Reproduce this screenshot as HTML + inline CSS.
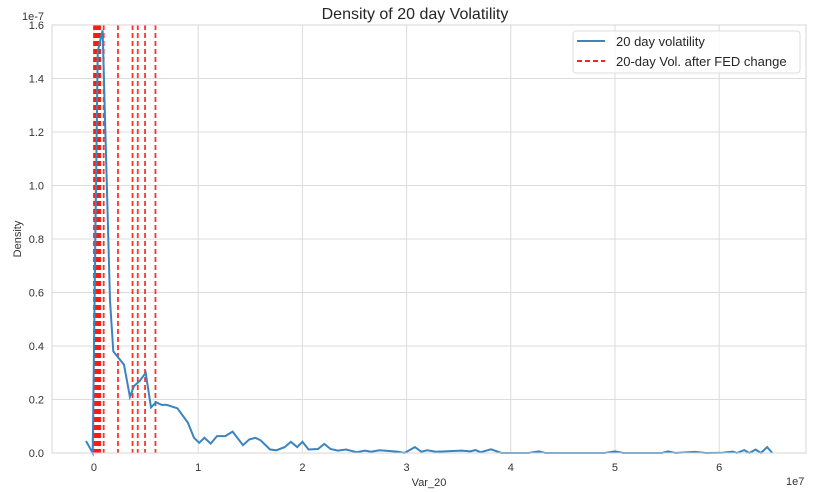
<!DOCTYPE html>
<html><head><meta charset="utf-8"><style>
body{margin:0;background:#fff;font-family:"Liberation Sans",sans-serif}
svg{display:block}
</style></head><body>
<svg width="824" height="492" id="chart">
<text x="415" y="19" text-anchor="middle" font-size="16" fill="#262626">Density of 20 day Volatility</text>
<g id="grid"></g>
<g id="ticks"></g>
<g id="vlines"></g>
<path id="curve" fill="none" stroke="#3a84c0" stroke-width="2"/>
<rect x="52" y="25" width="754" height="428" fill="none" stroke="#d5d5d5" stroke-width="1"/>
<text x="22" y="20" font-size="11" fill="#333">1e-7</text>
<text x="786" y="485" font-size="11" fill="#333">1e7</text>
<text x="429" y="486" text-anchor="middle" font-size="11" fill="#333">Var_20</text>
<text transform="translate(21,239) rotate(-90)" text-anchor="middle" font-size="11" fill="#333">Density</text>
<g>
<rect x="573" y="31" width="227" height="42" rx="3" fill="#fff" fill-opacity="0.85" stroke="#ddd"/>
<line x1="577" y1="41" x2="605" y2="41" stroke="#3a84c0" stroke-width="2"/>
<text x="616" y="46" font-size="13" fill="#262626">20 day volatility</text>
<line x1="577" y1="61" x2="605" y2="61" stroke="#ff2020" stroke-width="2" stroke-dasharray="5,3"/>
<text x="616" y="66" font-size="13" fill="#262626">20-day Vol. after FED change</text>
</g>
</svg>
<script>
const xVals=[-0.077,-0.012,0.036,0.083,0.154,0.185,0.288,0.345,0.384,0.44,0.496,0.547,0.595,0.65,0.70,0.80,0.90,0.96,1.01,1.06,1.12,1.18,1.26,1.33,1.43,1.49,1.55,1.60,1.69,1.75,1.83,1.89,1.95,2.00,2.06,2.15,2.21,2.27,2.34,2.42,2.52,2.60,2.66,2.74,2.92,2.98,3.08,3.14,3.20,3.28,3.53,3.61,3.66,3.71,3.81,3.91,4.17,4.27,4.33,4.90,5.00,5.08,5.45,5.51,5.58,5.77,5.87,6.03,6.13,6.17,6.24,6.29,6.35,6.40,6.46,6.51];
const densVals=[0.045,0,1.50,1.58,0.57,0.38,0.33,0.21,0.25,0.27,0.30,0.17,0.19,0.18,0.18,0.167,0.114,0.057,0.038,0.057,0.035,0.063,0.063,0.08,0.029,0.051,0.057,0.047,0.013,0.010,0.022,0.042,0.022,0.042,0.013,0.015,0.034,0.015,0.009,0.013,0.003,0.009,0.005,0.010,0.005,0,0.022,0.005,0.010,0.005,0.009,0.006,0.011,0.003,0.014,0,0,0.006,0,0,0.006,0,0,0.006,0,0.004,0,0.001,0.005,0,0.011,0,0.013,0,0.022,0];
const fedVals=[0,0.005,0.01,0.015,0.02,0.025,0.03,0.035,0.04,0.045,0.05,0.055,0.06,0.093,0.23,0.37,0.42,0.49,0.59];
const xTicks=[0,1,2,3,4,5,6];
const yTicks=[0,0.2,0.4,0.6,0.8,1.0,1.2,1.4,1.6];
const X0=52,X1=806,Y0=453,Y1=25,xMin=-0.403,xMax=6.833,yMin=0,yMax=1.6;
const sx=v=>X0+(v-xMin)/(xMax-xMin)*(X1-X0);
const sy=v=>Y0-(v-yMin)/(yMax-yMin)*(Y0-Y1);
const NS='http://www.w3.org/2000/svg';
const grid=document.getElementById('grid'),ticks=document.getElementById('ticks'),vl=document.getElementById('vlines');
function mk(tag,attrs,parent){const e=document.createElementNS(NS,tag);for(const k in attrs)e.setAttribute(k,attrs[k]);parent.appendChild(e);return e;}
xTicks.forEach(t=>{
 const l=mk('line',{x1:sx(t),x2:sx(t),y1:Y1,y2:Y0,stroke:'#dcdcdc','stroke-width':1},grid);
 
 
 const tx=mk('text',{x:sx(t),y:471,'text-anchor':'middle','font-size':11,fill:'#333'},ticks);
 tx.textContent=t;
 
 
});
yTicks.forEach(t=>{
 const l=mk('line',{x1:X0,x2:X1,y1:sy(t),y2:sy(t),stroke:'#dcdcdc','stroke-width':1},grid);
 
 
 const tx=mk('text',{x:44,y:sy(t)+4,'text-anchor':'end','font-size':11,fill:'#333'},ticks);
 tx.textContent=t.toFixed(1);
 
 
});
fedVals.forEach(v=>{
 const l=mk('line',{x1:sx(v),x2:sx(v),y1:Y1,y2:Y0,stroke:'#ff1a1a','stroke-width':1.8,'stroke-dasharray':'5,3','stroke-opacity':0.9},vl);
 
 
});
document.getElementById('curve').setAttribute('d',xVals.map((x,i)=>(i?'L':'M')+sx(x).toFixed(1)+','+sy(densVals[i]).toFixed(1)).join(''));
</script>
</body></html>
